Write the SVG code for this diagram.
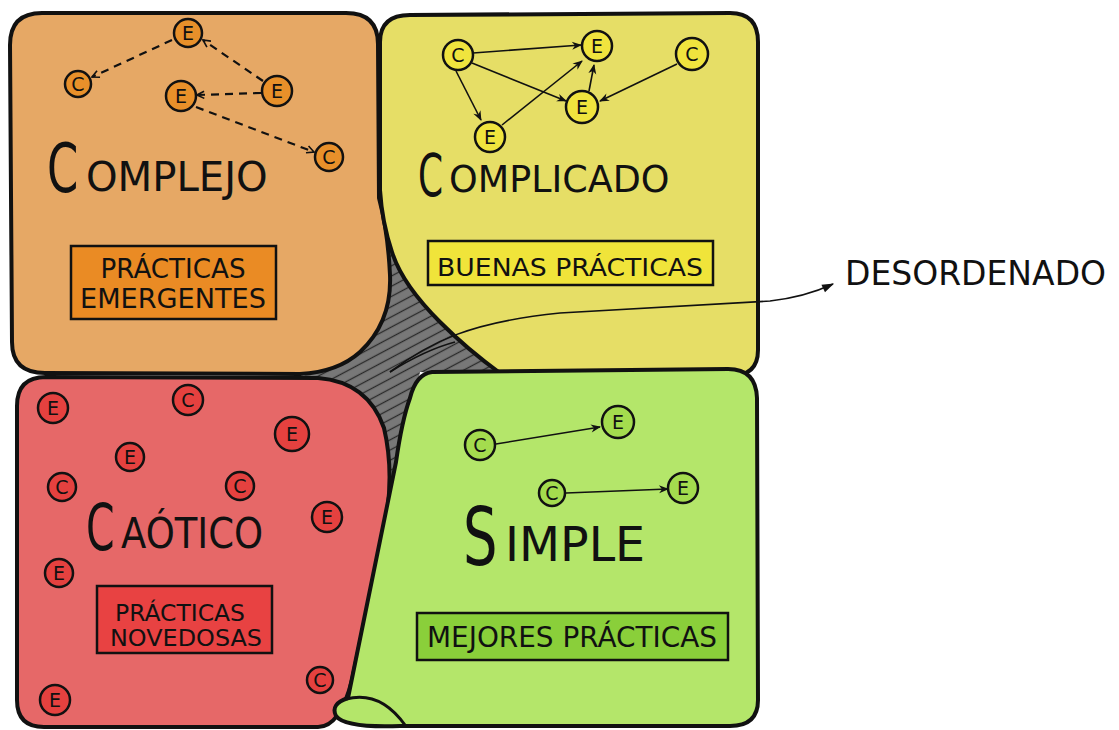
<svg xmlns="http://www.w3.org/2000/svg" width="1119" height="730" viewBox="0 0 1119 730">
<defs>
<style>
.region{stroke:#111;stroke-width:4;stroke-linejoin:round;stroke-linecap:round}
.title{font-family:"DejaVu Sans",sans-serif;fill:#111}
.lbl{font-family:"DejaVu Sans",sans-serif;fill:#111}
.box{stroke:#111;stroke-width:2.5}
.n circle{stroke:#111;stroke-width:2.5}
.n text{font-family:"DejaVu Sans",sans-serif;font-size:19px;fill:#111;text-anchor:middle;dominant-baseline:central}
.o circle{fill:#E8902A}
.y circle{fill:#F0E43E}
.r circle{fill:#E5413F}
.g circle{fill:#A4DC4E}
.dash{stroke:#111;stroke-width:2.2;stroke-dasharray:8 6;fill:none}
.solid{stroke:#111;stroke-width:1.6;fill:none}
</style>
<marker id="vh" viewBox="0 0 10 10" refX="9" refY="5" markerWidth="9" markerHeight="9" markerUnits="userSpaceOnUse" orient="auto">
<path d="M1,1 L9,5 L1,9" fill="none" stroke="#111" stroke-width="1.8"/>
</marker>
<marker id="th" viewBox="0 0 10 10" refX="9" refY="5" markerWidth="12" markerHeight="10" markerUnits="userSpaceOnUse" orient="auto">
<path d="M0,1 L10,5 L0,9 L3,5 Z" fill="#111"/>
</marker>
<marker id="big" viewBox="0 0 10 10" refX="9" refY="5" markerWidth="16" markerHeight="12" markerUnits="userSpaceOnUse" orient="auto">
<path d="M0,1.5 L10,5 L0,8.5 Z" fill="#111"/>
</marker>
<pattern id="hatch" width="9" height="9" patternUnits="userSpaceOnUse" patternTransform="rotate(-28)">
<rect width="9" height="9" fill="#787878"/>
<line x1="0" y1="4.5" x2="9" y2="4.5" stroke="#2a2a2a" stroke-width="1.3"/>
</pattern>
</defs>
<rect width="1119" height="730" fill="#fff"/>

<g id="desordenado-area">
<path d="M378,180 L512,378 L420,372 L398,480 L372,480 L300,378 L370,340 Z" fill="url(#hatch)" stroke="none"/>
</g>

<g id="complejo">
<path class="region" fill="#E6A865" d="M42,13 Q10,13 10,45 L12,342 Q12,373 45,373 L300,374 Q338,372 360,352 Q392,322 390,275 Q388,232 379,198 L378,44 Q378,13 346,13 Z"/>
<text class="title" font-size="68" transform="translate(47,192) scale(0.66,1)">C</text>
<text class="title" font-size="41" transform="translate(86,191) scale(0.98,1)">OMPLEJO</text>
<rect class="box" x="71" y="246" width="205" height="73" fill="#EA8B24"/>
<text class="lbl" x="173" y="278" font-size="26" text-anchor="middle" textLength="145" lengthAdjust="spacingAndGlyphs">PRÁCTICAS</text>
<text class="lbl" x="173" y="308" font-size="26" text-anchor="middle" textLength="186" lengthAdjust="spacingAndGlyphs">EMERGENTES</text>
</g>

<g id="complicado">
<path class="region" fill="#E6DE66" d="M410,15 L730,13 Q758,13 758,42 L758,350 Q758,376 730,376 L500,373 Q468,350 440,322 Q402,284 392,252 Q382,222 380,190 L380,42 Q380,15 410,15 Z"/>
<text class="title" font-size="58" transform="translate(418,196) scale(0.62,1)">C</text>
<text class="title" font-size="38" transform="translate(449,192) scale(0.96,1)">OMPLICADO</text>
<rect class="box" x="428" y="241" width="285" height="44" fill="#F0E43A"/>
<text class="lbl" x="570" y="276" font-size="25" text-anchor="middle" textLength="266" lengthAdjust="spacingAndGlyphs">BUENAS PRÁCTICAS</text>
</g>

<g id="caotico">
<path class="region" fill="#E66868" d="M46,377 L318,378 Q368,382 384,428 Q394,470 386,520 L352,680 Q340,727 318,727 L44,727 Q17,727 17,700 L17,406 Q17,377 46,377 Z"/>
<text class="title" font-size="64" transform="translate(86,550) scale(0.64,1)">C</text>
<text class="title" font-size="42" transform="translate(121,548) scale(0.88,1)">AÓTICO</text>
<rect class="box" x="97" y="586" width="175" height="67" fill="#E84242"/>
<text class="lbl" x="180" y="621" font-size="23" text-anchor="middle" textLength="130" lengthAdjust="spacingAndGlyphs">PRÁCTICAS</text>
<text class="lbl" x="186" y="646" font-size="23" text-anchor="middle" textLength="152" lengthAdjust="spacingAndGlyphs">NOVEDOSAS</text>
</g>

<g id="simple">
<path class="region" fill="#B4E66A" d="M432,372 L728,369 Q756,369 757,398 L758,700 Q758,726 730,726 L400,726 Q345,728 336,716 Q330,704 348,698 L396,462 Q402,420 410,398 Q416,374 432,372 Z"/>
<path d="M346,699 Q380,690 405,725" fill="none" stroke="#111" stroke-width="3"/>
<text class="title" font-size="80" transform="translate(463,565) scale(0.68,1)">S</text>
<text class="title" font-size="48" transform="translate(505,561) scale(0.99,1)">IMPLE</text>
<rect class="box" x="417" y="613" width="311" height="47" fill="#8ACF3A"/>
<text class="lbl" x="572" y="647" font-size="28" text-anchor="middle" textLength="290" lengthAdjust="spacingAndGlyphs">MEJORES PRÁCTICAS</text>
</g>

<g id="desordenado">
<text class="lbl" x="845" y="285" font-size="33">DESORDENADO</text>
</g>

<g id="connectors">
<path class="dash" d="M172,40 L92,77" marker-end="url(#vh)"/>
<path class="dash" d="M263,81 L203,40" marker-end="url(#vh)"/>
<path class="dash" d="M261,93 L197,95" marker-end="url(#vh)"/>
<path class="dash" d="M196,107 L314,152" marker-end="url(#vh)"/>
<path class="solid" d="M473,53 L581,45" marker-end="url(#th)"/>
<path class="solid" d="M456,71 L481,120" marker-end="url(#th)"/>
<path class="solid" d="M472,63 L566,101" marker-end="url(#th)"/>
<path class="solid" d="M502,125 L582,61" marker-end="url(#th)"/>
<path class="solid" d="M589,91 L594,65" marker-end="url(#th)"/>
<path class="solid" d="M677,64 L600,101" marker-end="url(#th)"/>
<path class="solid" d="M496,444 L600,427" marker-end="url(#th)"/>
<path class="solid" d="M566,493 L668,489" marker-end="url(#th)"/>
<path class="solid" d="M390,372 C430,342 470,322 560,313 L770,301 Q805,297 833,284" marker-end="url(#big)"/>
<path class="solid" d="M390,372 Q425,350 455,342"/>
</g>

<g id="n-cx1" class="n o"><circle cx="188" cy="33" r="14"/><text x="188" y="33">E</text></g>
<g id="n-cx2" class="n o"><circle cx="78" cy="84" r="13"/><text x="78" y="84">C</text></g>
<g id="n-cx3" class="n o"><circle cx="181" cy="96" r="15"/><text x="181" y="96">E</text></g>
<g id="n-cx4" class="n o"><circle cx="277" cy="91" r="15"/><text x="277" y="91">E</text></g>
<g id="n-cx5" class="n o"><circle cx="329" cy="157" r="14"/><text x="329" y="157">C</text></g>

<g id="n-cp1" class="n y"><circle cx="458" cy="55" r="15"/><text x="458" y="55">C</text></g>
<g id="n-cp2" class="n y"><circle cx="597" cy="46" r="15"/><text x="597" y="46">E</text></g>
<g id="n-cp3" class="n y"><circle cx="692" cy="54" r="16"/><text x="692" y="54">C</text></g>
<g id="n-cp4" class="n y"><circle cx="582" cy="107" r="16"/><text x="582" y="107">E</text></g>
<g id="n-cp5" class="n y"><circle cx="490" cy="137" r="15"/><text x="490" y="137">E</text></g>

<g id="n-ch1" class="n r"><circle cx="53" cy="408" r="15"/><text x="53" y="408">E</text></g>
<g id="n-ch2" class="n r"><circle cx="188" cy="400" r="15"/><text x="188" y="400">C</text></g>
<g id="n-ch3" class="n r"><circle cx="292" cy="434" r="17"/><text x="292" y="434">E</text></g>
<g id="n-ch4" class="n r"><circle cx="130" cy="457" r="14"/><text x="130" y="457">E</text></g>
<g id="n-ch5" class="n r"><circle cx="62" cy="487" r="14"/><text x="62" y="487">C</text></g>
<g id="n-ch6" class="n r"><circle cx="240" cy="486" r="14"/><text x="240" y="486">C</text></g>
<g id="n-ch7" class="n r"><circle cx="327" cy="517" r="15"/><text x="327" y="517">E</text></g>
<g id="n-ch8" class="n r"><circle cx="59" cy="573" r="14"/><text x="59" y="573">E</text></g>
<g id="n-ch9" class="n r"><circle cx="320" cy="680" r="13"/><text x="320" y="680">C</text></g>
<g id="n-ch10" class="n r"><circle cx="55" cy="700" r="15"/><text x="55" y="700">E</text></g>

<g id="n-s1" class="n g"><circle cx="480" cy="445" r="15"/><text x="480" y="445">C</text></g>
<g id="n-s2" class="n g"><circle cx="618" cy="422" r="16"/><text x="618" y="422">E</text></g>
<g id="n-s3" class="n g"><circle cx="552" cy="493" r="13"/><text x="552" y="493">C</text></g>
<g id="n-s4" class="n g"><circle cx="683" cy="488" r="15"/><text x="683" y="488">E</text></g>
</svg>
